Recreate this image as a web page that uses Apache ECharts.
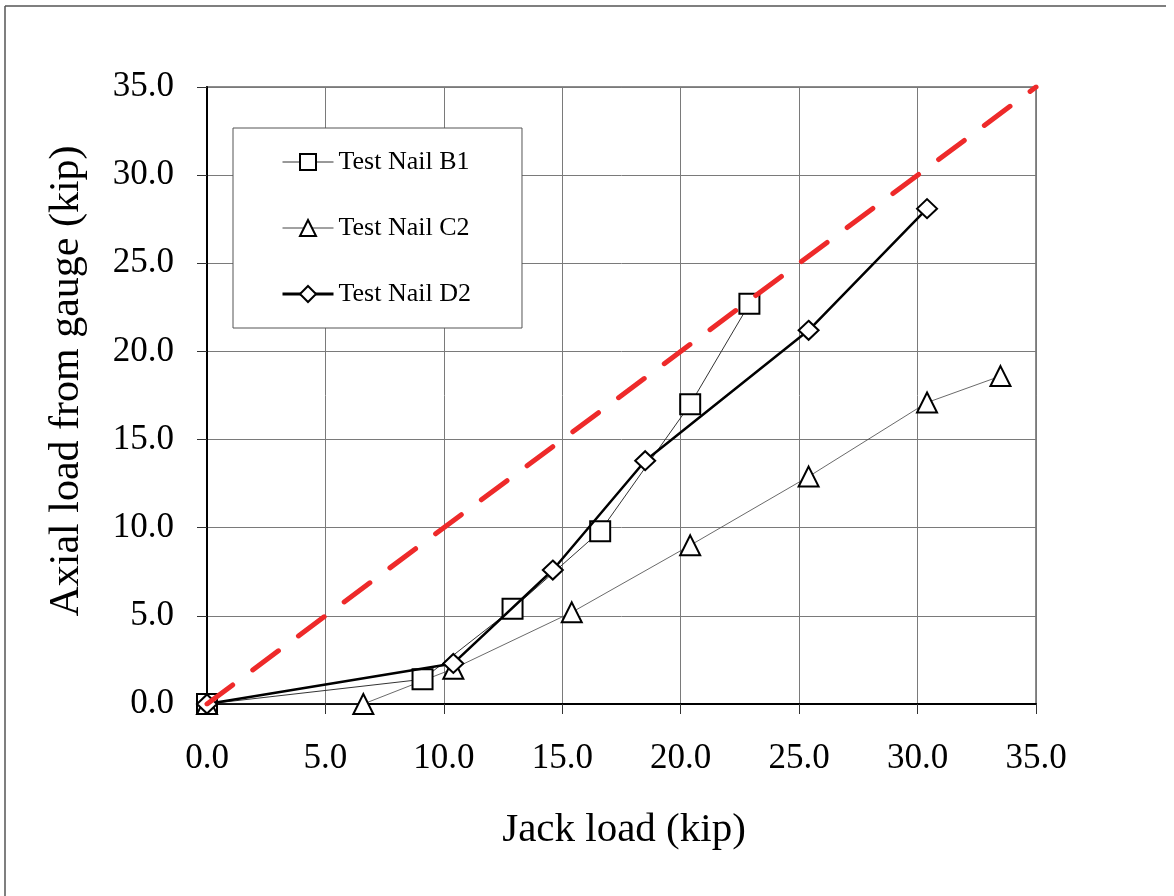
<!DOCTYPE html>
<html>
<head>
<meta charset="utf-8">
<title>Jack load vs axial load</title>
<script src="https://cdn.jsdelivr.net/npm/echarts@6/dist/echarts.min.js"></script>
<style>
  html, body { margin: 0; padding: 0; background: #fff; }
  #chart { width: 1174px; height: 896px; }
</style>
</head>
<body>
<div id="chart"></div>
<script>
// (kip)
const b1Jack = [0, 9.1, 12.9, 16.6, 20.4, 22.9]
const b1Gauge = [0, 1.4, 5.4, 9.8, 17.0, 22.7]
const c2Jack = [0, 6.6, 10.4, 15.4, 20.4, 25.4, 30.4, 33.5]
const c2Gauge = [0, 0, 2.0, 5.2, 9.0, 12.9, 17.1, 18.6]
const d2Jack = [0, 10.4, 14.6, 18.5, 25.4, 30.4]
const d2Gauge = [0, 2.3, 7.6, 13.8, 21.2, 28.1]
const oneToOneJack = [0, 35]
const oneToOneGauge = [0, 35]
const axisMin = 0
const axisMax = 35
const axisStep = 5

const serif = 'Liberation Serif, Times New Roman, serif'

function pairs(xs, ys) {
  return xs.map((x, i) => [x, ys[i]])
}

const chart = echarts.init(document.getElementById('chart'))

const markerStyle = {
  color: '#fff',
  borderColor: '#000',
  borderWidth: 2
}

function axis(labelMargin) {
  return {
    type: 'value',
    min: axisMin,
    max: axisMax,
    interval: axisStep,
    axisLine: { show: true, onZero: false, lineStyle: { color: '#000', width: 2 } },
    axisTick: { show: true, length: 10, lineStyle: { color: '#333', width: 1 } },
    axisLabel: {
      fontFamily: serif,
      fontSize: 35,
      color: '#000',
      margin: labelMargin,
      formatter: v => v.toFixed(1)
    },
    splitLine: { show: true, lineStyle: { color: '#7a7a7a', width: 1 } }
  }
}

chart.setOption({
  backgroundColor: '#fff',
  animation: false,
  grid: {
    left: 207,
    right: 138,
    top: 87,
    bottom: 192,
    show: true,
    borderColor: '#8c8c8c',
    borderWidth: 2
  },
  xAxis: axis(37),
  yAxis: axis(33),
  legend: {
    orient: 'vertical',
    left: 233,
    top: 128,
    padding: [21, 51, 21, 48],
    itemGap: 40,
    itemWidth: 51,
    itemHeight: 20,
    itemTextGap: 6,
    borderColor: '#555',
    borderWidth: 1,
    backgroundColor: '#fff',
    data: [
      { name: 'Test Nail B1', lineStyle: { width: 1 } },
      { name: 'Test Nail C2', lineStyle: { width: 1 } },
      { name: 'Test Nail D2', lineStyle: { width: 3 } }
    ],
    textStyle: { fontFamily: serif, fontSize: 26, color: '#000' }
  },
  graphic: [
    // outer frame of the original figure
    { type: 'line', shape: { x1: 5, y1: 6, x2: 1166, y2: 6 }, style: { stroke: '#555', lineWidth: 1.5 } },
    { type: 'line', shape: { x1: 5, y1: 6, x2: 5, y2: 896 }, style: { stroke: '#555', lineWidth: 1.5 } },
    {
      type: 'text',
      x: 624,
      y: 830,
      style: {
        text: 'Jack load (kip)',
        font: '41px ' + serif,
        fill: '#000',
        align: 'center',
        verticalAlign: 'middle'
      }
    },
    {
      type: 'text',
      x: 67,
      y: 381,
      rotation: Math.PI / 2,
      style: {
        text: 'Axial load from gauge (kip)',
        font: '42px ' + serif,
        fill: '#000',
        align: 'center',
        verticalAlign: 'middle'
      }
    }
  ],
  series: [
    {
      name: 'Test Nail B1',
      type: 'line',
      data: pairs(b1Jack, b1Gauge),
      symbol: 'rect',
      symbolSize: 20,
      lineStyle: { color: '#333', width: 1 },
      itemStyle: markerStyle,
      z: 3
    },
    {
      name: 'Test Nail C2',
      type: 'line',
      data: pairs(c2Jack, c2Gauge),
      symbol: 'triangle',
      symbolSize: 20,
      lineStyle: { color: '#444', width: 0.8 },
      itemStyle: markerStyle,
      z: 3
    },
    {
      name: 'Test Nail D2',
      type: 'line',
      data: pairs(d2Jack, d2Gauge),
      symbol: 'diamond',
      symbolSize: [20, 19],
      lineStyle: { color: '#000', width: 2.5 },
      itemStyle: markerStyle,
      z: 4
    },
    {
      name: '1:1',
      type: 'line',
      data: pairs(oneToOneJack, oneToOneGauge),
      symbol: 'none',
      lineStyle: { color: '#ee2a2a', width: 5, type: [32, 25], cap: 'round' },
      z: 5,
      silent: true
    }
  ]
})
</script>
</body>
</html>
